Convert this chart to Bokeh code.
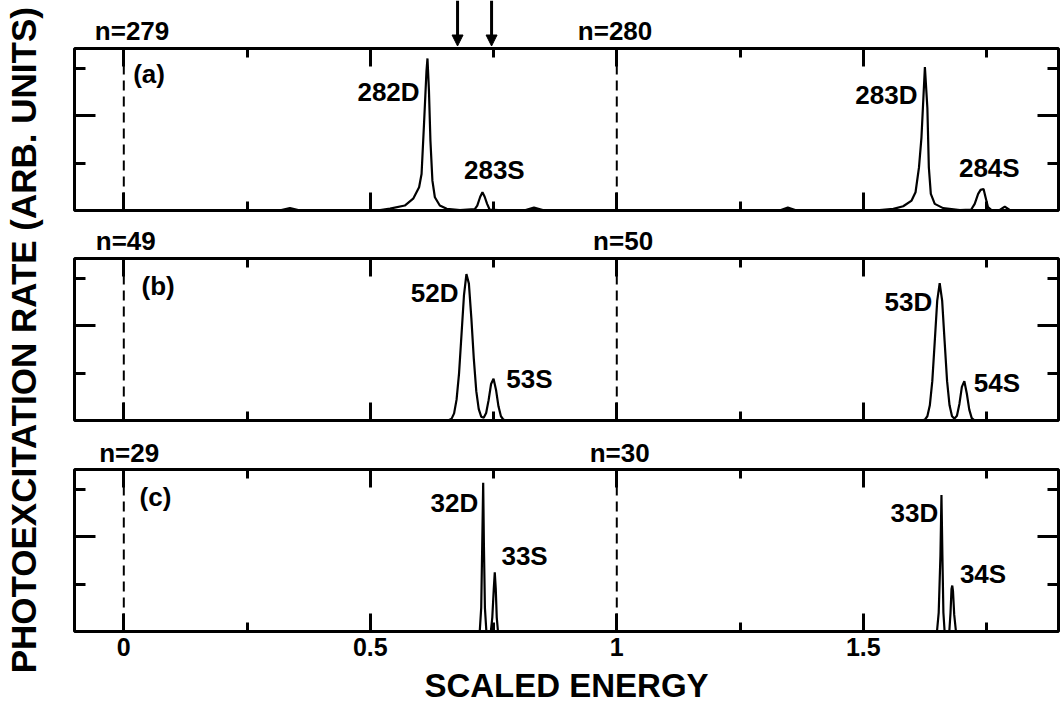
import math
from bokeh.plotting import figure
from bokeh.layouts import row, column
from bokeh.models import Range1d, FixedTicker, LinearAxis, Label, Arrow, NormalHead, Span
from bokeh.embed import file_html
from bokeh.resources import INLINE

# ---------------- data ----------------
# panel (a): n = 279 / 280
a_x = [-0.1, 0.315, 0.337, 0.358, 0.52, 0.540, 0.570, 0.587, 0.599, 0.604, 0.609, 0.614, 0.616,
       0.619, 0.622, 0.626, 0.631, 0.641, 0.655, 0.682, 0.712, 0.717, 0.723, 0.7275, 0.732, 0.737,
       0.742, 0.76, 0.815, 0.832, 0.85, 0.95, 1.33, 1.347, 1.365, 1.50, 1.533, 1.561, 1.581, 1.598,
       1.606, 1.613, 1.618, 1.625, 1.630, 1.633, 1.637, 1.645, 1.662, 1.696, 1.719, 1.726, 1.733,
       1.738, 1.744, 1.748, 1.753, 1.760, 1.777, 1.787, 1.797, 1.9]
a_y = [0, 0, 0.05, 0, 0.01, 0.04, 0.105, 0.25, 0.49, 0.77, 1.83, 2.95, 3.21,
       2.53, 1.47, 0.63, 0.28, 0.105, 0.035, 0.01, 0.03, 0.105, 0.29, 0.385, 0.29, 0.14,
       0.02, 0.01, 0.01, 0.06, 0.01, 0, 0, 0.06, 0, 0, 0.01, 0.035, 0.09, 0.21,
       0.385, 0.91, 1.54, 3.03, 2.17, 0.91, 0.35, 0.14, 0.05, 0.01, 0.02, 0.14, 0.35,
       0.435, 0.455, 0.28, 0.07, 0.01, 0.01, 0.08, 0.01, 0]

# panel (b): n = 49 / 50
b_x = [-0.1, 0.650, 0.660, 0.665, 0.670, 0.675, 0.680, 0.685, 0.690, 0.695, 0.700, 0.705, 0.710,
       0.715, 0.720, 0.725, 0.730, 0.735, 0.740, 0.745, 0.750, 0.755, 0.760, 0.765, 0.770, 0.775,
       1.615, 1.620, 1.625, 1.630, 1.635, 1.640, 1.645, 1.650, 1.655, 1.660, 1.665, 1.670, 1.675,
       1.680, 1.685, 1.690, 1.695, 1.700, 1.705, 1.710, 1.715, 1.720, 1.725, 1.730, 1.9]
b_y = [0, 0, 0.01, 0.04, 0.15, 0.44, 0.99, 1.81, 2.64, 3.09, 2.89, 2.16, 1.30,
       0.62, 0.24, 0.08, 0.06, 0.16, 0.43, 0.77, 0.88, 0.65, 0.30, 0.09, 0.02, 0,
       0, 0.00, 0.02, 0.09, 0.32, 0.83, 1.67, 2.53, 2.90, 2.53, 1.67, 0.83, 0.32,
       0.09, 0.04, 0.10, 0.35, 0.71, 0.83, 0.57, 0.23, 0.05, 0.01, 0, 0]

# panel (c): n = 29 / 30
c_x = [-0.1, 0.722, 0.725, 0.727, 0.729, 0.7305, 0.7325, 0.7355, 0.7445, 0.7475, 0.7505, 0.7525,
       0.7545, 0.7565, 0.759, 1.6495, 1.653, 1.6565, 1.6586, 1.6605, 1.6625, 1.665, 1.6745, 1.677,
       1.679, 1.6805, 1.682, 1.6845, 1.688, 1.9]
c_y = [0, 0, 0.5, 1.8, 3.14, 1.8, 0.5, 0, 0, 0.3, 0.9, 1.25,
       0.9, 0.3, 0, 0, 0.4, 1.6, 2.88, 1.6, 0.4, 0, 0, 0.4,
       0.9, 0.97, 0.85, 0.35, 0, 0]

threshold_x = [0, 1]
arrow_x = [0.677, 0.746]
x_major = [0, 0.5, 1, 1.5]
x_minor = [0.25, 0.75, 1.25, 1.75]
x_tick_labels = ["0", "0.5", "1", "1.5"]
y_major = [2]
y_minor = [1, 3]

a_n = ["n=279", "n=280"]
b_n = ["n=49", "n=50"]
c_n = ["n=29", "n=30"]
a_peaks = ["282D", "283S", "283D", "284S"]
b_peaks = ["52D", "53S", "53D", "54S"]
c_peaks = ["32D", "33S", "33D", "34S"]

# ---------------- layout / style ----------------
XR = (-0.1, 1.896)
YR = (0, 3.42)
FONT = "Liberation Sans"
FIG_W = 1012
BL, BR = 26, 2


def lab(p, x, y, text, align="left", size="26px"):
    p.add_layout(Label(x=x, y=y, text=text, text_align=align, text_baseline="middle",
                       text_font=FONT, text_font_style="bold", text_font_size=size,
                       text_color="black"))


def strip(h):
    """A borderless strip sharing the panels' horizontal scale (y in pixels)."""
    s = figure(width=FIG_W, height=h, x_range=Range1d(*XR), y_range=Range1d(0, h),
               output_backend="svg", toolbar_location=None,
               x_axis_location=None, y_axis_location=None,
               min_border_left=BL, min_border_right=BR, min_border_top=0, min_border_bottom=0,
               outline_line_color=None)
    s.grid.visible = False
    return s


def make_panel(h, bbot, xlabels):
    p = figure(width=FIG_W, height=h, x_range=Range1d(*XR), y_range=Range1d(*YR),
               output_backend="svg", toolbar_location=None,
               x_axis_location=None, y_axis_location=None,
               min_border_left=BL, min_border_right=BR,
               min_border_top=2, min_border_bottom=bbot)
    p.grid.visible = False
    p.outline_line_color = "black"
    p.outline_line_width = 3
    for side in ["above", "below"]:
        ax = LinearAxis(ticker=FixedTicker(ticks=x_major, minor_ticks=x_minor))
        ax.axis_line_color = None
        ax.major_tick_in = 18
        ax.major_tick_out = 0
        ax.minor_tick_in = 9
        ax.minor_tick_out = 0
        ax.major_tick_line_width = 3
        ax.minor_tick_line_width = 3
        if side == "below" and xlabels:
            ax.major_label_overrides = {v: t for v, t in zip(x_major, x_tick_labels)}
            ax.major_label_text_font = FONT
            ax.major_label_text_font_style = "bold"
            ax.major_label_text_font_size = "25px"
            ax.major_label_text_color = "black"
            ax.major_label_standoff = 6
        else:
            ax.major_label_text_font_size = "0px"
            ax.major_label_text_color = None
            ax.major_label_standoff = 0
        p.add_layout(ax, side)
    for side in ["left", "right"]:
        ax = LinearAxis(ticker=FixedTicker(ticks=y_major, minor_ticks=y_minor))
        ax.axis_line_color = None
        ax.major_tick_in = 21
        ax.major_tick_out = 0
        ax.minor_tick_in = 11
        ax.minor_tick_out = 0
        ax.major_tick_line_width = 3
        ax.minor_tick_line_width = 3
        ax.major_label_text_font_size = "0px"
        ax.major_label_text_color = None
        ax.major_label_standoff = 0
        p.add_layout(ax, side)
    for tx in threshold_x:
        p.add_layout(Span(location=tx, dimension="height", line_color="black",
                          line_width=2, line_dash="10 6"))
    return p


# headers with the n= labels
ha = strip(46)
hb = strip(44)
hc = strip(45)
for s, names, xs, yy in [(ha, a_n, [-0.0588, 0.921], 15.5), (hb, b_n, [-0.0568, 0.952], 15.5),
                         (hc, c_n, [-0.050, 0.945], 15.0)]:
    for nm, xx in zip(names, xs):
        lab(s, xx, yy, nm)

# arrows above panel (a)
for xa in arrow_x:
    ha.add_layout(Arrow(x_start=xa, y_start=46, x_end=xa, y_end=0.5,
                        line_width=3, line_color="black",
                        end=NormalHead(size=11, fill_color="black", line_color="black", line_width=1)))

pa = make_panel(166, 2, False)
pb = make_panel(166, 2, False)
pc = make_panel(199, 35, True)

pa.line(a_x, a_y, line_color="black", line_width=2.2)
pb.line(b_x, b_y, line_color="black", line_width=2.2)
pc.line(c_x, c_y, line_color="black", line_width=2.2)

# panel tags
lab(pa, 0.019, 2.88, "(a)")
lab(pb, 0.036, 2.85, "(b)")
lab(pc, 0.032, 2.85, "(c)")

# peak labels
for p, names, pos in [
    (pa, a_peaks, [(0.600, 2.51, "right"), (0.690, 0.845, "left"), (1.610, 2.44, "right"), (1.694, 0.90, "left")]),
    (pb, b_peaks, [(0.679, 2.69, "right"), (0.776, 0.876, "left"), (1.640, 2.51, "right"), (1.724, 0.80, "left")]),
    (pc, c_peaks, [(0.719, 2.71, "right"), (0.766, 1.59, "left"), (1.652, 2.50, "right"), (1.696, 1.22, "left")]),
]:
    for nm, (xx, yy, al) in zip(names, pos):
        lab(p, xx, yy, nm, align=al)

# x axis title strip
foot = strip(40)
lab(foot, (XR[0] + XR[1]) / 2, 21, "SCALED ENERGY", align="center", size="33px")

# y axis title in its own narrow figure
py = figure(width=48, height=706, x_range=Range1d(0, 48), y_range=Range1d(0, 706),
            output_backend="svg", toolbar_location=None, x_axis_location=None,
            y_axis_location=None, min_border=0, outline_line_color=None)
py.grid.visible = False
py.add_layout(Label(x=22.5, y=366.3, text="PHOTOEXCITATION RATE (ARB. UNITS)", angle=math.pi / 2,
                    text_align="center", text_baseline="middle", text_font=FONT,
                    text_font_style="bold", text_font_size="35px", text_color="black"))

layout = row(py, column(ha, pa, hb, pb, hc, pc, foot, spacing=0), spacing=0)
open("out.html", "w").write(file_html(layout, INLINE))
